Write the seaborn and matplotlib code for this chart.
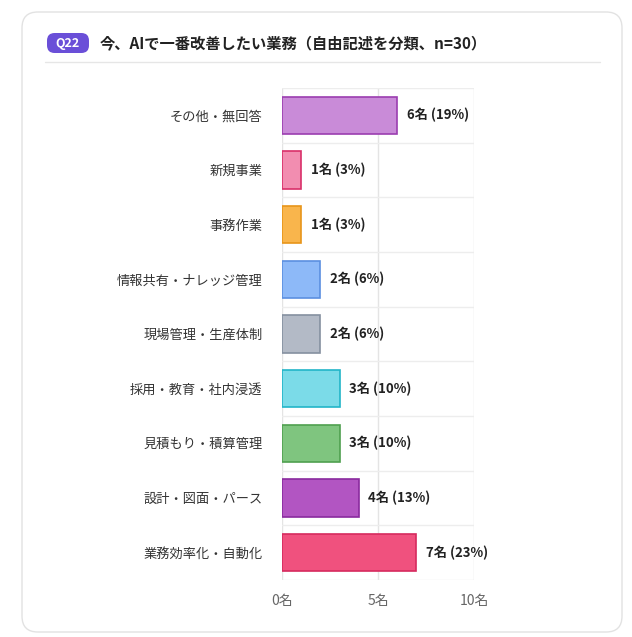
import matplotlib
matplotlib.use("Agg")
import matplotlib.pyplot as plt
from matplotlib.patches import FancyBboxPatch
import seaborn as sns
import pandas as pd

categories = ["その他・無回答", "新規事業", "事務作業", "情報共有・ナレッジ管理", "現場管理・生産体制",
              "採用・教育・社内浸透", "見積もり・積算管理", "設計・図面・パース", "業務効率化・自動化"]
counts = [6, 1, 1, 2, 2, 3, 3, 4, 7]
percents = [19, 3, 3, 6, 6, 10, 10, 13, 23]
fills = ["#C98BD8", "#F28DB0", "#F9B54C", "#8DB9F8", "#B3BAC6", "#7BDBE8", "#7FC57F", "#B255C2", "#F0517E"]
edges = ["#9B3DB0", "#D9306A", "#E8951A", "#5B8FE0", "#8590A0", "#22B5C8", "#4FA04F", "#8A2A9E", "#D62A5E"]
xticks = [0, 5, 10]

sns.set_theme(style="white")
plt.rcParams["font.family"] = ["Noto Sans CJK JP", "DejaVu Sans"]

fig = plt.figure(figsize=(6.32, 6.37), dpi=100)
fig.patch.set_facecolor("white")

card = FancyBboxPatch((22 / 632, 5 / 637), 600 / 632, 620 / 637,
                      boxstyle="round,pad=0,rounding_size=0.025", transform=fig.transFigure,
                      facecolor="none", edgecolor="#E2E2E2", linewidth=1)
fig.patches.append(card)
badge = FancyBboxPatch((47 / 632, 1 - 53 / 637), 42 / 632, 20 / 637,
                       boxstyle="round,pad=0,rounding_size=0.012", transform=fig.transFigure,
                       facecolor="#6A4FD8", edgecolor="none")
fig.patches.append(badge)
fig.text(68 / 632, 1 - 43 / 637, "Q22", color="white", fontsize=9, fontweight="bold",
         ha="center", va="center")
fig.text(100 / 632, 1 - 43 / 637, "今、AIで一番改善したい業務（自由記述を分類、n=30）",
         fontsize=11, fontweight="bold", color="#222222", va="center")
fig.add_artist(plt.Line2D([45 / 632, 600 / 632], [1 - 62 / 637] * 2, color="#E6E6E6", lw=1))

ax = fig.add_axes([282 / 632, 1 - 580 / 637, 192 / 632, 492 / 637])
ax.set_zorder(5)
df = pd.DataFrame({"cat": categories, "n": counts})
sns.barplot(data=df, x="n", y="cat", hue="cat", palette=fills, legend=False, width=0.68, ax=ax,
            saturation=1)
for bar, ec in zip(ax.patches, edges):
    bar.set_edgecolor(ec)
    bar.set_linewidth(1.2)
for i, (c, p) in enumerate(zip(counts, percents)):
    ax.text(c + 0.5, i, f"{c}名 ({p}%)", va="center", fontsize=9.5, fontweight="bold", color="#222222")

ax.set_xlim(0, 10)
ax.set_ylim(len(categories) - 0.5, -0.5)
ax.set_xticks(xticks)
ax.set_xticklabels([f"{t}名" for t in xticks], fontsize=10, color="#666666")
for t in xticks:
    ax.axvline(t, color="#E4E4E4", lw=1, zorder=0)
for k in range(len(categories) + 1):
    ax.axhline(k - 0.5, color="#EDEDED", lw=1, zorder=0)
ax.tick_params(axis="y", labelsize=9.5, colors="#333333", length=0, pad=14)
ax.tick_params(axis="x", length=0, pad=10)
ax.set_xlabel("")
ax.set_ylabel("")
for s in ax.spines.values():
    s.set_visible(False)
ax.set_facecolor("none")

fig.savefig("out.png", dpi=100)
